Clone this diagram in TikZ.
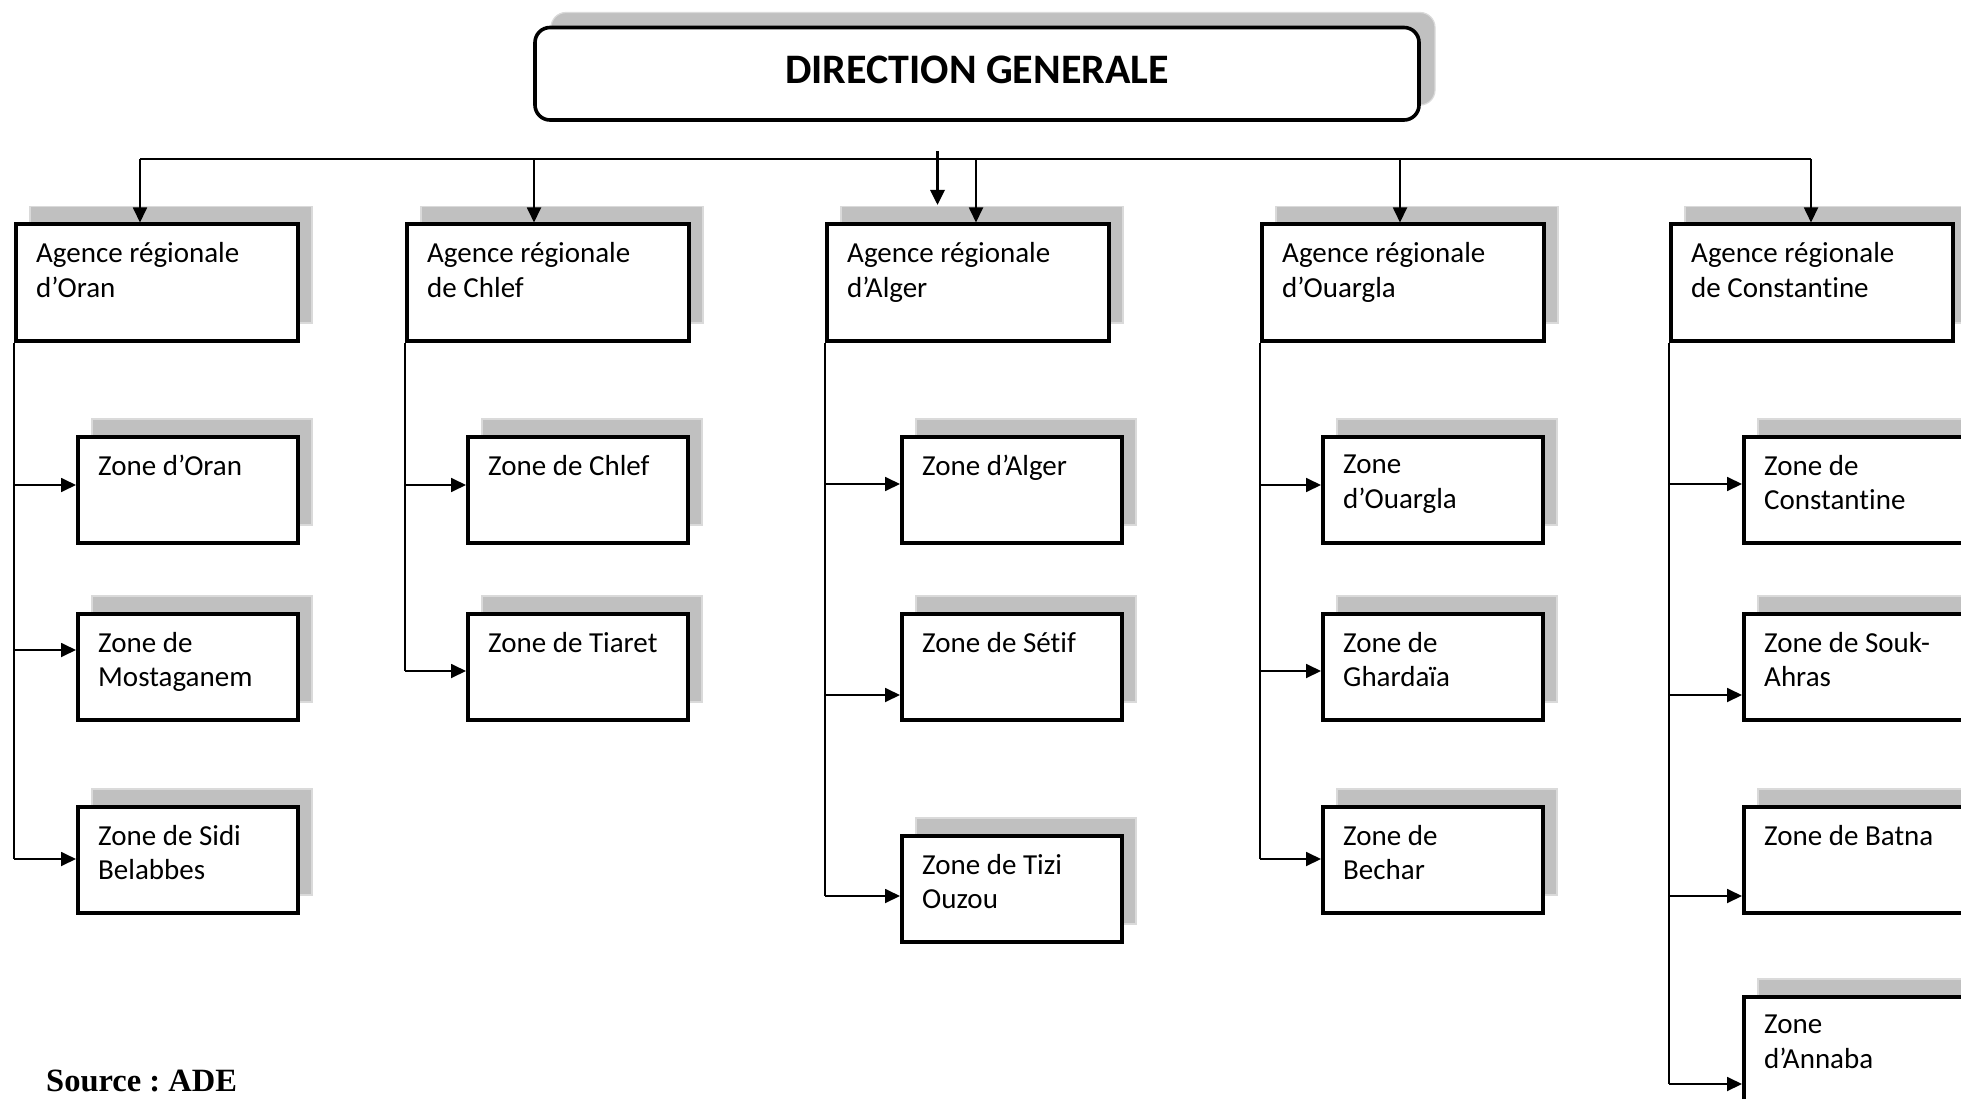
\documentclass[tikz,border=0pt]{standalone}
\usepackage{fontspec}
\setmainfont{Carlito}[Ligatures={NoCommon}]
\newfontfamily\srcfont{Liberation Serif}
\usetikzlibrary{arrows.meta,calc}
\definecolor{shd}{HTML}{C0C0C0}
\definecolor{shdline}{HTML}{DADADA}
\frenchspacing
\newcommand\orgbox[6]{%
  \draw[shadowbox] ({#2+16},{#3-16}) rectangle ++(#4,#5);
  \node[mainbox, minimum width=#4pt, minimum height=#5pt, anchor=north west] (#1) at (#2,#3) {};
  \node[lbl] (#1t) at ($(#1.north west)+(22,20)$) {#6};
}
\begin{document}
\begin{tikzpicture}[x=1pt,y=-1pt,
  shadowbox/.style={fill=shd, draw=shdline, line width=1.2pt},
  mainbox/.style={draw=black, fill=white, line width=3.6pt, inner sep=0pt},
  lbl/.style={anchor=north west, inner sep=0pt, align=left, font=\fontsize{29}{34.5}\selectfont},
  conn/.style={line width=1.8pt},
  arr/.style={conn, -{Triangle[length=15pt,width=14pt]}},
]
\useasboundingbox (0,0) rectangle (1961,1099);

% Direction generale
\draw[shadowbox, rounded corners=15pt] (551,12.5) rectangle (1435,105);
\node[draw=black, fill=white, line width=3.6pt, rounded corners=15pt, minimum width=884pt, minimum height=92.5pt, inner sep=0pt] (dg) at (977,73.75) {};
\node[inner sep=0pt, font=\bfseries\fontsize{42}{48}\selectfont] (dgt) at (977,70) {DIRECTION GENERALE};

% agencies
\orgbox{a1}{14}{222.5}{282}{116.5}{Agence régionale\\d’Oran}
\orgbox{a2}{405}{222.5}{282}{116.5}{Agence régionale\\de Chlef}
\orgbox{a3}{825}{222.5}{282}{116.5}{Agence régionale\\d’Alger}
\orgbox{a4}{1260}{222.5}{282}{116.5}{Agence régionale\\d’Ouargla}
\orgbox{a5}{1669}{222.5}{282}{116.5}{Agence régionale\\de Constantine}

% zones
\orgbox{z11}{76}{435}{220}{106}{Zone d’Oran}
\orgbox{z12}{76}{612}{220}{106}{Zone de\\Mostaganem}
\orgbox{z13}{76}{805}{220}{106}{Zone de Sidi\\Belabbes}
\orgbox{z21}{466}{435}{220}{106}{Zone de Chlef}
\orgbox{z22}{466}{612}{220}{106}{Zone de Tiaret}
\orgbox{z31}{900}{435}{220}{106}{Zone d’Alger}
\orgbox{z32}{900}{612}{220}{106}{Zone de Sétif}
\orgbox{z33}{900}{834}{220}{106}{Zone de Tizi\\Ouzou}
\orgbox{z41}{1321}{435}{220}{106}{Zone\\d’Ouargla}
\orgbox{z42}{1321}{612}{220}{106}{Zone de\\Ghardaïa}
\orgbox{z43}{1321}{805}{220}{106}{Zone de\\Bechar}
\orgbox{z51}{1742}{435}{220}{106}{Zone de\\Constantine}
\orgbox{z52}{1742}{612}{220}{106}{Zone de Souk-\\Ahras}
\orgbox{z53}{1742}{805}{220}{106}{Zone de Batna}
\orgbox{z54}{1742}{995}{220}{106}{Zone\\d’Annaba}

% top bus
\coordinate (t1) at (140,159);
\coordinate (t2) at (534,159);
\coordinate (t3) at (976,159);
\coordinate (t4) at (1400,159);
\coordinate (t5) at (1811,159);
\draw[conn] (t1) -- (t5);
\foreach \i in {1,...,5}{\draw[arr] (t\i) -- (t\i |- a\i.north);}
\coordinate (tk) at (937.5,151);
\coordinate (tke) at (937.5,205);
\draw[arr, line width=3.2pt] (tk) -- (tke);

% column connectors
\newcommand\branch[3]{% agency, zone, y
  \draw[arr] (#1.south west |- 0,#3) -- (#2.west |- 0,#3);
}
\draw[conn] (a1.south west) -- (a1.south west |- 0,859);
\branch{a1}{z11}{485}\branch{a1}{z12}{650}\branch{a1}{z13}{859}
\draw[conn] (a2.south west) -- (a2.south west |- 0,671);
\branch{a2}{z21}{485}\branch{a2}{z22}{671}
\draw[conn] (a3.south west) -- (a3.south west |- 0,896);
\branch{a3}{z31}{484}\branch{a3}{z32}{695}\branch{a3}{z33}{896}
\draw[conn] (a4.south west) -- (a4.south west |- 0,859);
\branch{a4}{z41}{485}\branch{a4}{z42}{671}\branch{a4}{z43}{859}
\draw[conn] (a5.south west) -- (a5.south west |- 0,1084);
\branch{a5}{z51}{484}\branch{a5}{z52}{695}\branch{a5}{z53}{896}\branch{a5}{z54}{1084}

\node[anchor=base west, inner sep=0pt, font=\srcfont\bfseries\fontsize{32.5}{38}\selectfont] (src) at (46,1091) {Source : ADE};
\end{tikzpicture}
\end{document}
